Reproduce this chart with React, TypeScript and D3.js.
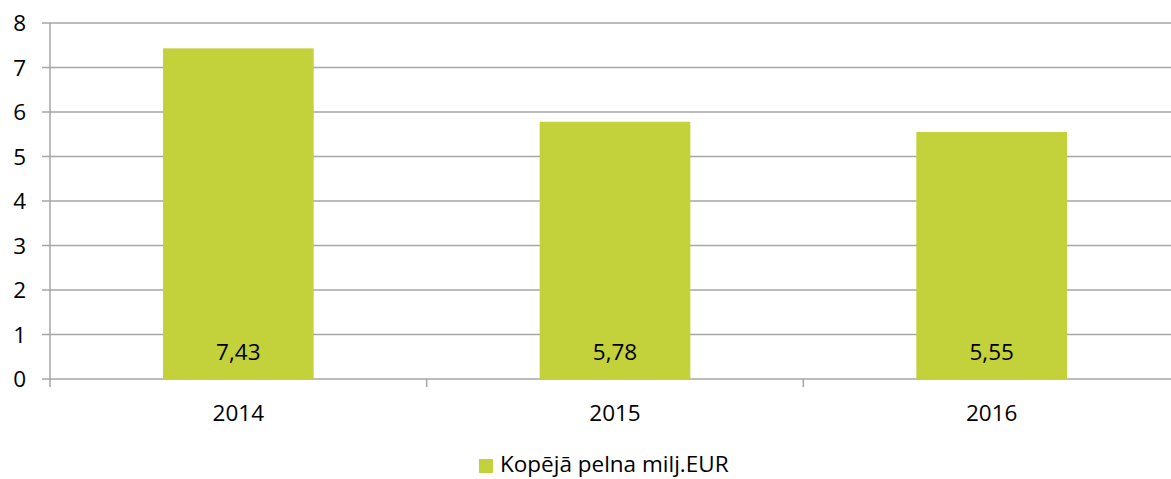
import React from "react";
import * as d3 from "d3";

const categories = ["2014", "2015", "2016"];
const values = [7.43, 5.78, 5.55];
const valueLabels = ["7,43", "5,78", "5,55"];
const yTicks = [0, 1, 2, 3, 4, 5, 6, 7, 8];
const seriesName = "Kopējā pelna milj.EUR";

const W = 1171;
const H = 479;
const FONT = "'Open Sans', 'Noto Sans', sans-serif";
const BAR = "#c3d13a";
const GRID = "#a6a6a6";
const FS = 22.5;

export default function App() {
  const x = d3.scaleBand<string>().domain(categories).range([50, 1180]).paddingInner(0.6).paddingOuter(0.3);
  const xOuter = d3.scaleBand<string>().domain(categories).range([50, 1180]).padding(0);
  const y = d3.scaleLinear().domain([0, 8]).range([379, 23]);

  return (
    <svg width={W} height={H} style={{ position: "absolute", left: 0, top: 0 }}>
      <rect x={0} y={0} width={W} height={H} fill="#fff" />
      {yTicks.map((t) => (
        <g key={t}>
          <line x1={42} x2={W} y1={y(t)} y2={y(t)} stroke={GRID} strokeWidth={1.5} />
          <text x={26} y={y(t)} dy="0.36em" textAnchor="end" fontFamily={FONT} fontSize={FS} fill="#000">
            {t}
          </text>
        </g>
      ))}
      <line x1={50} x2={50} y1={y(8)} y2={387} stroke={GRID} strokeWidth={1.5} />
      {categories.map((c) => (
        <line key={"t" + c} x1={xOuter(c)! + xOuter.bandwidth()} x2={xOuter(c)! + xOuter.bandwidth()} y1={379} y2={387} stroke={GRID} strokeWidth={1.5} />
      ))}
      {categories.map((c, i) => (
        <g key={c}>
          <rect x={x(c)} y={y(values[i])} width={x.bandwidth()} height={y(0) - y(values[i])} fill={BAR} />
          <text x={x(c)! + x.bandwidth() / 2} y={352} dy="0.36em" textAnchor="middle" fontFamily={FONT} fontSize={FS} fill="#000">
            {valueLabels[i]}
          </text>
          <text x={xOuter(c)! + xOuter.bandwidth() / 2} y={413} dy="0.36em" textAnchor="middle" fontFamily={FONT} fontSize={FS} fill="#000">
            {c}
          </text>
        </g>
      ))}
      <rect x={479} y={459} width={14} height={14} fill={BAR} />
      <text x={500} y={472} fontFamily={FONT} fontSize={FS} fill="#000">
        {seriesName}
      </text>
    </svg>
  );
}
